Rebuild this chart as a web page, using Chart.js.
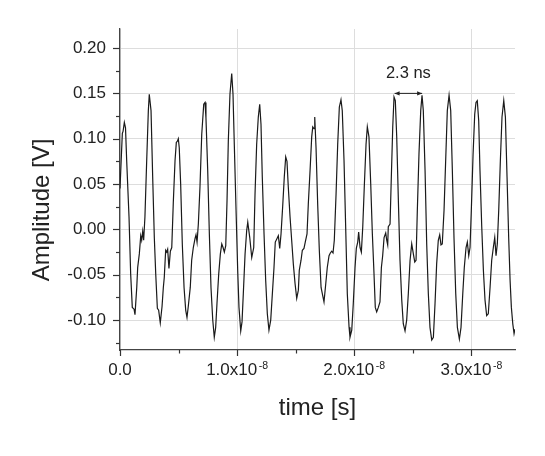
<!DOCTYPE html>
<html>
<head>
<meta charset="utf-8">
<script src="https://cdn.jsdelivr.net/npm/chart.js@4.4.1/dist/chart.umd.min.js"></script>
<style>
  html, body { margin: 0; padding: 0; background: #fff; }
  #wrap { width: 545px; height: 456px; }
</style>
</head>
<body>
<div id="wrap"><canvas id="c" width="545" height="456"></canvas></div>
<script>
// time in ns, amplitude in V
const timeNs = [
  0.00, 0.13, 0.20, 0.26, 0.37, 0.47, 0.57, 0.77, 0.91, 1.05, 1.20, 1.28, 1.43, 1.51, 1.65, 1.77, 1.85, 1.94, 2.02, 2.13,
  2.28, 2.42, 2.50, 2.65, 2.79, 2.93, 3.05, 3.19, 3.30, 3.44, 3.59, 3.70, 3.78, 3.90, 3.99, 4.07, 4.18, 4.30, 4.42, 4.55,
  4.70, 4.81, 4.89, 4.98, 5.06, 5.18, 5.32, 5.47, 5.61, 5.72, 5.83, 6.00, 6.12, 6.26, 6.41, 6.49, 6.58, 6.69, 6.83, 6.98,
  7.15, 7.26, 7.34, 7.49, 7.63, 7.77, 7.92, 8.05, 8.17, 8.28, 8.43, 8.57, 8.69, 8.80, 8.91, 9.03, 9.14, 9.25, 9.39, 9.54,
  9.65, 9.76, 9.91, 10.05, 10.16, 10.31, 10.42, 10.53, 10.68, 10.82, 10.91, 11.08, 11.25, 11.42, 11.53, 11.67, 11.81, 11.93, 12.04, 12.15,
  12.30, 12.44, 12.58, 12.72, 12.87, 13.01, 13.15, 13.26, 13.41, 13.52, 13.64, 13.75, 13.89, 14.03, 14.15, 14.26, 14.37, 14.52, 14.66, 14.80,
  14.95, 15.09, 15.23, 15.31, 15.46, 15.57, 15.71, 15.82, 15.97, 16.08, 16.23, 16.37, 16.46, 16.57, 16.63, 16.74, 16.88, 17.02, 17.17, 17.28,
  17.42, 17.57, 17.70, 17.85, 17.96, 18.08, 18.19, 18.30, 18.45, 18.59, 18.73, 18.87, 18.98, 19.13, 19.27, 19.41, 19.56, 19.64, 19.79, 19.92,
  20.07, 20.18, 20.30, 20.38, 20.50, 20.61, 20.73, 20.86, 21.01, 21.12, 21.26, 21.41, 21.55, 21.69, 21.80, 21.92, 22.06, 22.20, 22.32, 22.43,
  22.55, 22.69, 22.78, 22.86, 22.91, 23.06, 23.17, 23.29, 23.40, 23.51, 23.63, 23.77, 23.91, 24.06, 24.19, 24.34, 24.48, 24.62, 24.77, 24.91,
  25.05, 25.17, 25.28, 25.39, 25.53, 25.68, 25.79, 25.90, 26.05, 26.19, 26.33, 26.47, 26.62, 26.76, 26.90, 27.04, 27.18, 27.30, 27.41, 27.52,
  27.67, 27.81, 27.95, 28.10, 28.24, 28.38, 28.52, 28.67, 28.81, 28.98, 29.12, 29.27, 29.40, 29.55, 29.66, 29.78, 29.89, 30.00, 30.15, 30.29,
  30.40, 30.51, 30.63, 30.74, 30.89, 31.03, 31.17, 31.31, 31.45, 31.60, 31.74, 31.88, 32.00, 32.11, 32.22, 32.34, 32.48, 32.62, 32.77, 32.91,
  33.05, 33.19, 33.31, 33.42, 33.54, 33.65, 33.73
];
const amplitude = [
  0.045, 0.085, 0.106, 0.108, 0.118, 0.112, 0.076, 0.014, -0.049, -0.086, -0.088, -0.094, -0.064, -0.042, -0.027, -0.007, -0.012, -0.002, -0.012, 0.014,
  0.076, 0.131, 0.149, 0.131, 0.058, -0.009, -0.049, -0.087, -0.089, -0.103, -0.085, -0.064, -0.053, -0.023, -0.025, -0.022, -0.043, -0.024, -0.020, 0.029,
  0.076, 0.096, 0.097, 0.100, 0.090, 0.050, -0.016, -0.064, -0.089, -0.097, -0.085, -0.064, -0.034, -0.020, -0.010, -0.006, -0.014, 0.006, 0.047, 0.105,
  0.138, 0.140, 0.123, 0.065, -0.005, -0.064, -0.100, -0.119, -0.108, -0.082, -0.049, -0.027, -0.016, -0.020, -0.025, -0.018, 0.032, 0.098, 0.149, 0.172,
  0.149, 0.094, 0.021, -0.045, -0.086, -0.112, -0.102, -0.071, -0.027, -0.001, 0.008, -0.009, -0.031, -0.020, 0.039, 0.094, 0.124, 0.138, 0.116, 0.058,
  -0.005, -0.056, -0.093, -0.111, -0.100, -0.071, -0.042, -0.014, -0.010, -0.007, -0.021, -0.005, 0.025, 0.058, 0.080, 0.075, 0.047, 0.014, -0.012, -0.038,
  -0.060, -0.076, -0.067, -0.045, -0.034, -0.023, -0.021, -0.014, -0.005, 0.028, 0.065, 0.102, 0.113, 0.111, 0.124, 0.090, 0.028, -0.023, -0.064, -0.071,
  -0.080, -0.060, -0.042, -0.029, -0.026, -0.024, -0.026, -0.012, 0.039, 0.094, 0.135, 0.143, 0.131, 0.076, 0.003, -0.071, -0.108, -0.119, -0.111, -0.082,
  -0.042, -0.021, -0.014, -0.003, -0.020, -0.025, 0.003, 0.047, 0.094, 0.113, 0.102, 0.050, -0.005, -0.049, -0.086, -0.091, -0.086, -0.080, -0.042, -0.029,
  -0.009, -0.004, -0.012, -0.017, 0.003, 0.006, 0.058, 0.113, 0.146, 0.142, 0.102, 0.032, -0.034, -0.078, -0.104, -0.112, -0.100, -0.071, -0.034, -0.016,
  -0.027, -0.036, -0.034, 0.021, 0.083, 0.131, 0.148, 0.131, 0.065, -0.016, -0.071, -0.108, -0.122, -0.119, -0.082, -0.038, -0.012, -0.006, -0.017, -0.016,
  0.021, 0.076, 0.131, 0.148, 0.131, 0.065, -0.009, -0.071, -0.108, -0.121, -0.108, -0.071, -0.042, -0.020, -0.014, -0.029, -0.020, 0.021, 0.083, 0.127,
  0.140, 0.142, 0.120, 0.065, 0.003, -0.045, -0.078, -0.095, -0.093, -0.064, -0.034, -0.020, -0.009, -0.029, -0.016, 0.021, 0.076, 0.124, 0.142, 0.124,
  0.058, -0.009, -0.056, -0.086, -0.104, -0.115, -0.110
];

// axes
const xMajorTicks = [0, 10, 20, 30];
const xMinorTicks = [5, 15, 25];
const xTickMant   = ['0.0', '1.0x10', '2.0x10', '3.0x10'];
const xTickExp    = ['', '-8', '-8', '-8'];
const yMajorTicks = [-0.10, -0.05, 0.00, 0.05, 0.10, 0.15, 0.20];
const yMinorTicks = [-0.125, -0.075, -0.025, 0.025, 0.075, 0.125, 0.175];
const xTitle = 'time [s]';
const yTitle = 'Amplitude [V]';

// period marker
const periodFrom = 23.45;
const periodTo   = 25.80;
const periodLevel = 0.15;
const periodText = '2.3 ns';

const FONT = '"Liberation Sans", Arial, Helvetica, sans-serif';
const INK = '#222';

const points = timeNs.map((t, i) => ({ x: t, y: amplitude[i] }));

const decor = {
  id: 'decor',
  afterDraw(chart) {
    const ctx = chart.ctx;
    const xs = chart.scales.x, ys = chart.scales.y;
    const area = chart.chartArea;
    ctx.save();
    ctx.strokeStyle = '#333'; ctx.lineWidth = 1.2;

    // tick marks, outside
    yMajorTicks.forEach(v => { const y = Math.round(ys.getPixelForValue(v)) + 0.5;
      ctx.beginPath(); ctx.moveTo(area.left - 7, y); ctx.lineTo(area.left, y); ctx.stroke(); });
    yMinorTicks.forEach(v => { const y = Math.round(ys.getPixelForValue(v)) + 0.5;
      ctx.beginPath(); ctx.moveTo(area.left - 4, y); ctx.lineTo(area.left, y); ctx.stroke(); });
    xMajorTicks.forEach(v => { const x = Math.round(xs.getPixelForValue(v)) + 0.5;
      ctx.beginPath(); ctx.moveTo(x, area.bottom); ctx.lineTo(x, area.bottom + 6); ctx.stroke(); });
    xMinorTicks.forEach(v => { const x = Math.round(xs.getPixelForValue(v)) + 0.5;
      ctx.beginPath(); ctx.moveTo(x, area.bottom); ctx.lineTo(x, area.bottom + 3.5); ctx.stroke(); });

    // x tick labels with superscript exponent
    ctx.fillStyle = INK; ctx.textBaseline = 'alphabetic'; ctx.textAlign = 'left';
    xMajorTicks.forEach((v, i) => {
      const x = xs.getPixelForValue(v);
      ctx.font = '17px ' + FONT;
      const w1 = ctx.measureText(xTickMant[i]).width;
      ctx.font = '10.5px ' + FONT;
      const w2 = xTickExp[i] ? ctx.measureText(xTickExp[i]).width + 1.5 : 0;
      const x0 = x - (w1 + w2) / 2;
      ctx.font = '17px ' + FONT;
      ctx.fillText(xTickMant[i], x0, area.bottom + 25);
      if (xTickExp[i]) {
        ctx.font = '10.5px ' + FONT;
        ctx.fillText(xTickExp[i], x0 + w1 + 1.5, area.bottom + 19);
      }
    });

    // axis titles
    ctx.font = '24px ' + FONT; ctx.textAlign = 'center';
    ctx.fillText(xTitle, (area.left + area.right) / 2, 415);
    ctx.save();
    ctx.translate(49, 210); ctx.rotate(-Math.PI / 2);
    ctx.fillText(yTitle, 0, 0);
    ctx.restore();

    // period arrow
    const ax1 = xs.getPixelForValue(periodFrom), ax2 = xs.getPixelForValue(periodTo);
    const ay = ys.getPixelForValue(periodLevel);
    ctx.strokeStyle = INK; ctx.lineWidth = 1;
    ctx.beginPath(); ctx.moveTo(ax1, ay); ctx.lineTo(ax2, ay); ctx.stroke();
    ctx.beginPath();
    ctx.moveTo(ax1, ay); ctx.lineTo(ax1 + 5, ay - 2.2); ctx.lineTo(ax1 + 5, ay + 2.2); ctx.closePath();
    ctx.moveTo(ax2, ay); ctx.lineTo(ax2 - 5, ay - 2.2); ctx.lineTo(ax2 - 5, ay + 2.2); ctx.closePath();
    ctx.fill();
    ctx.font = '16.5px ' + FONT;
    ctx.fillText(periodText, (ax1 + ax2) / 2, ay - 15);
    ctx.restore();
  }
};

new Chart(document.getElementById('c'), {
  type: 'line',
  data: {
    datasets: [{
      data: points,
      borderColor: '#1a1a1a',
      borderWidth: 1.2,
      pointRadius: 0,
      tension: 0,
      fill: false
    }]
  },
  options: {
    responsive: false,
    animation: false,
    events: [],
    layout: { padding: { top: 29, right: 30, left: 0, bottom: 0 } },
    plugins: { legend: { display: false }, tooltip: { enabled: false } },
    scales: {
      x: {
        type: 'linear', min: 0, max: 33.73,
        afterFit: s => { s.height = 106; },
        ticks: { display: false, stepSize: 10, includeBounds: false },
        grid: { color: '#dddddd', lineWidth: 1, drawTicks: false },
        border: { display: true, color: '#444', width: 1.3 }
      },
      y: {
        type: 'linear', min: -0.133, max: 0.221,
        afterFit: s => { s.width = 120; },
        ticks: {
          stepSize: 0.05, includeBounds: false, padding: 14, color: INK,
          font: { family: FONT, size: 17 },
          callback: v => v.toFixed(2)
        },
        grid: { color: '#dddddd', lineWidth: 1, drawTicks: false },
        border: { display: true, color: '#444', width: 1.3 }
      }
    }
  },
  plugins: [decor]
});
</script>
</body>
</html>
